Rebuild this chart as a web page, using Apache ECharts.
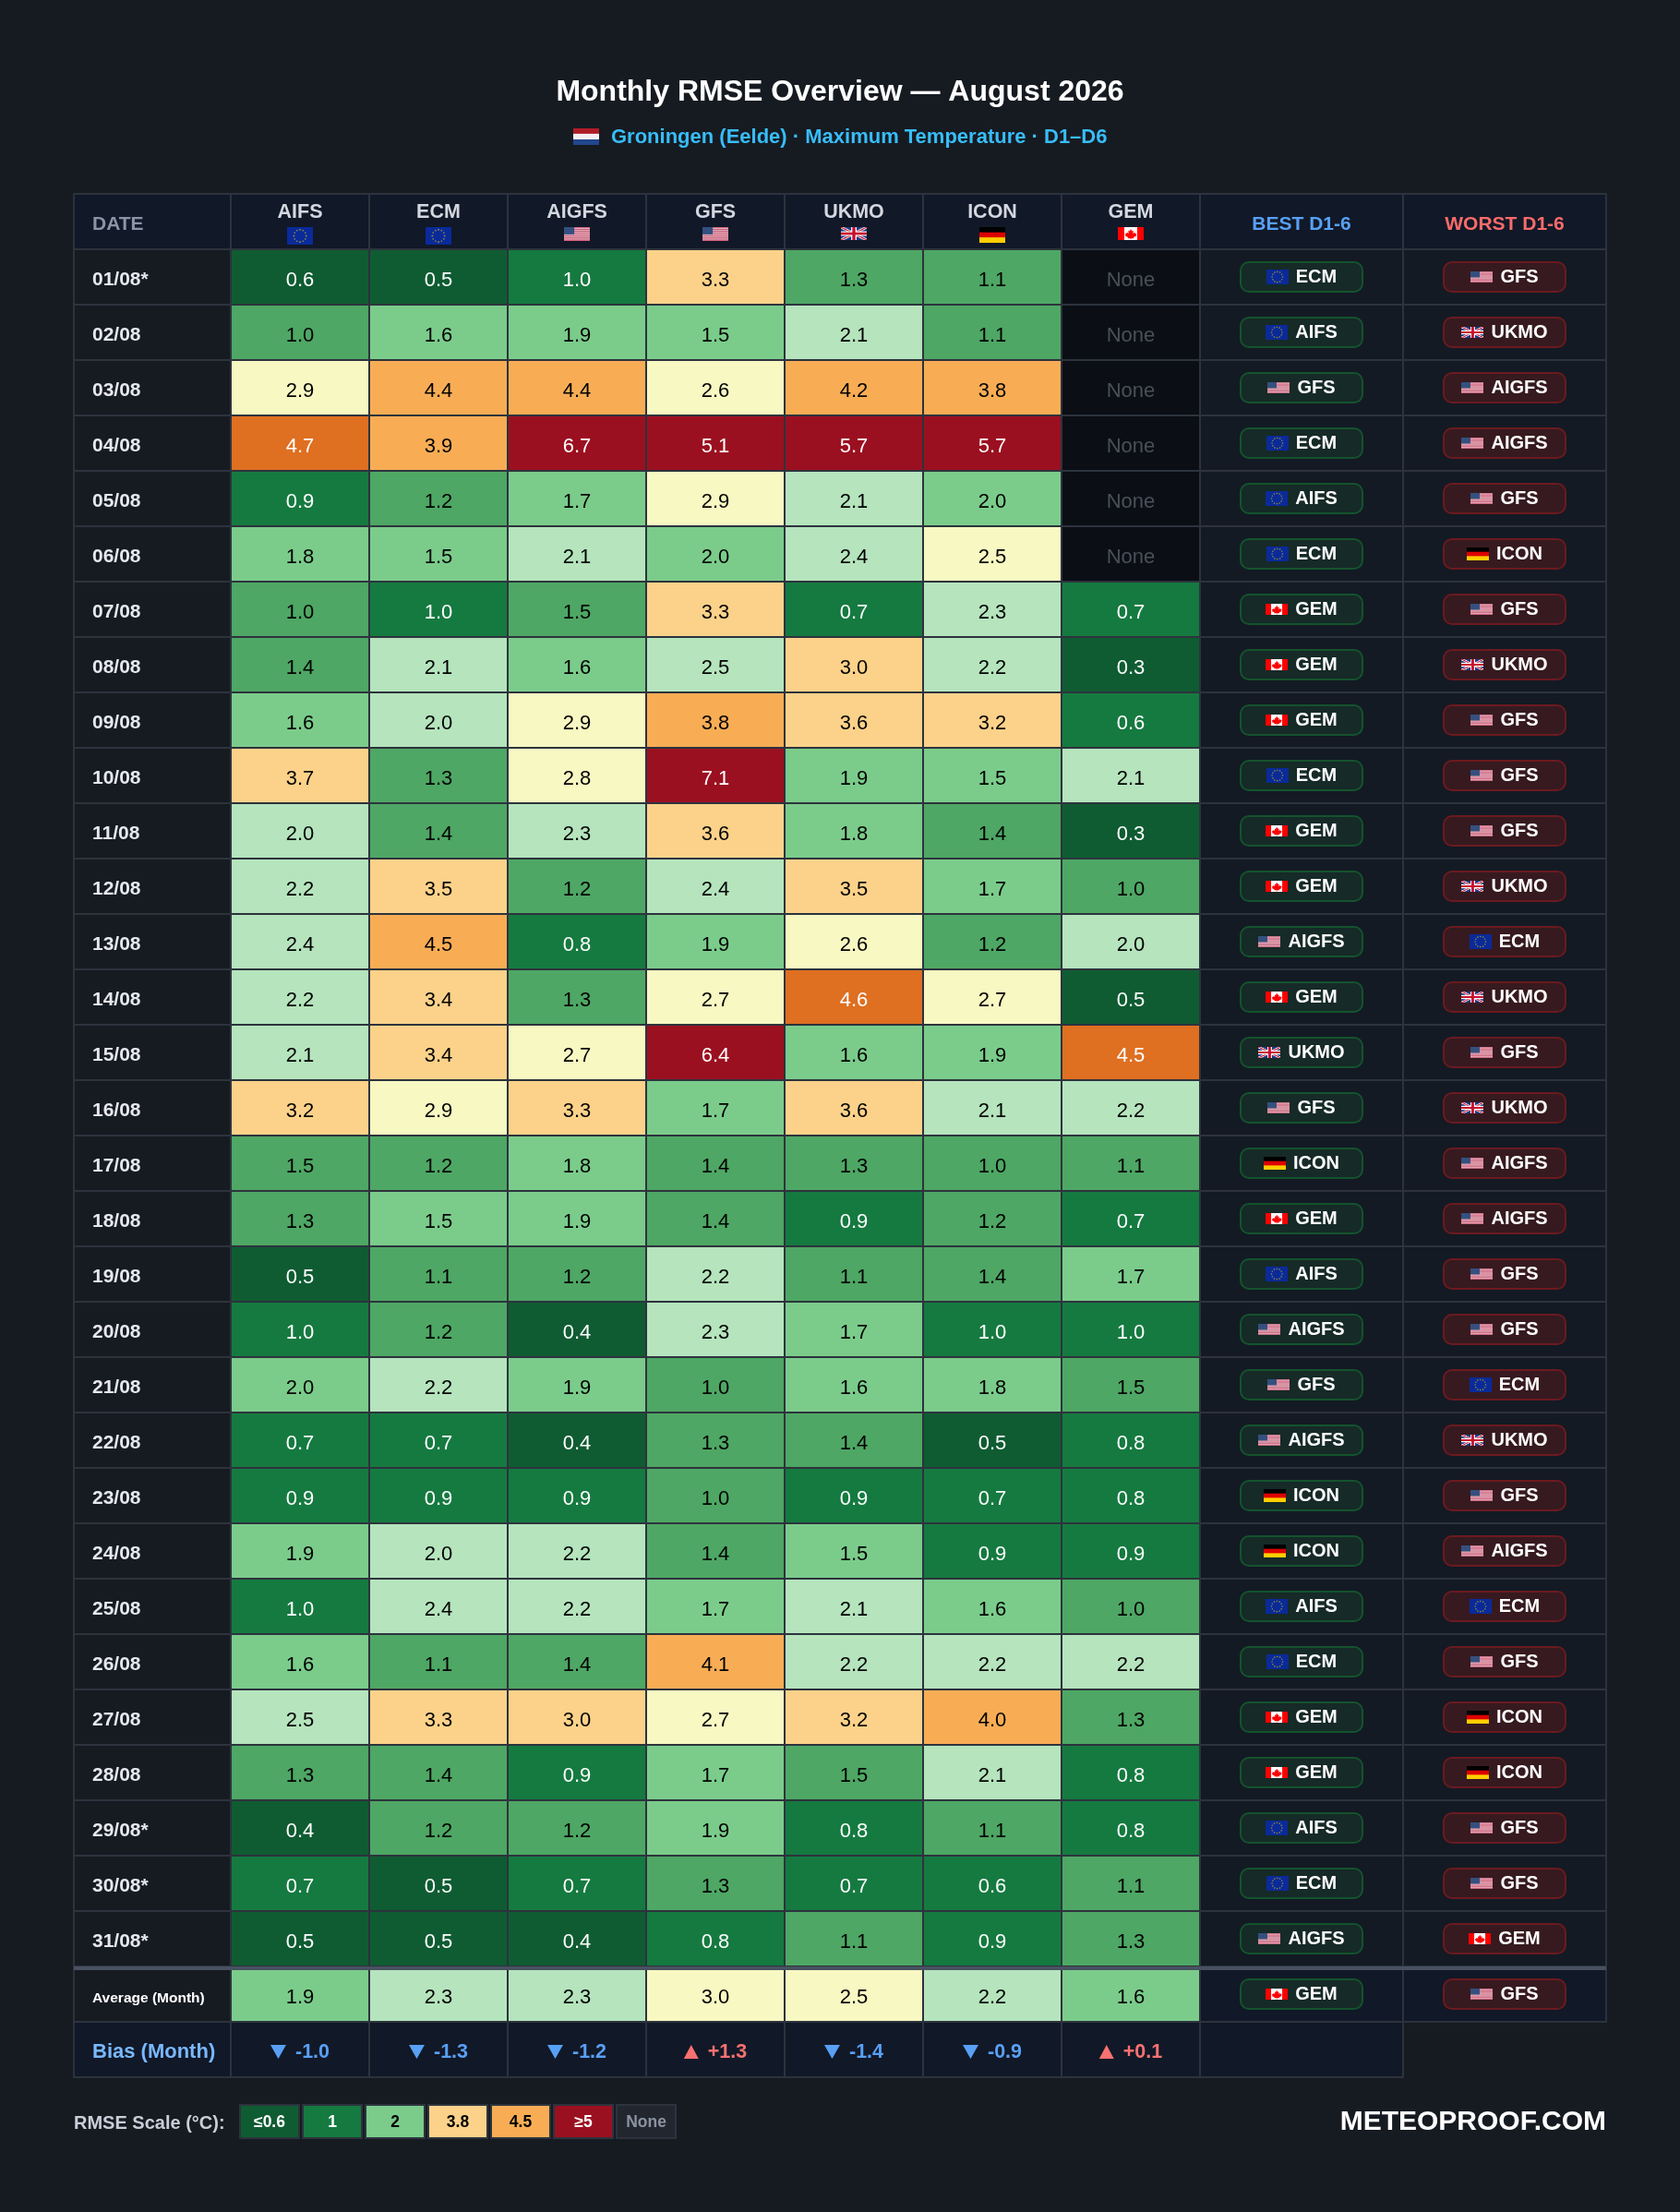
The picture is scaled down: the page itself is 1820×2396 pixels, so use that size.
<!DOCTYPE html>
<html><head><meta charset="utf-8"><title>Monthly RMSE Overview</title>
<style>html,body{margin:0;padding:0;background:#161b22;overflow:hidden}#c{width:1820px;height:2396px}</style>
<script src="https://cdn.jsdelivr.net/npm/echarts@6/dist/echarts.min.js"></script>
</head><body><div id="c"></div>
<script>
const titleText = 'Monthly RMSE Overview — August 2026';
const subtitleText = 'Groningen (Eelde) · Maximum Temperature · D1–D6';
const dates = ['01/08*','02/08','03/08','04/08','05/08','06/08','07/08','08/08','09/08','10/08','11/08','12/08','13/08','14/08','15/08','16/08','17/08','18/08','19/08','20/08','21/08','22/08','23/08','24/08','25/08','26/08','27/08','28/08','29/08*','30/08*','31/08*'];
const models = ['AIFS','ECM','AIGFS','GFS','UKMO','ICON','GEM'];
const modelFlags = {AIFS:'eu',ECM:'eu',AIGFS:'us',GFS:'us',UKMO:'gb',ICON:'de',GEM:'ca'};
const aifs  = [0.6,1.0,2.9,4.7,0.9,1.8,1.0,1.4,1.6,3.7,2.0,2.2,2.4,2.2,2.1,3.2,1.5,1.3,0.5,1.0,2.0,0.7,0.9,1.9,1.0,1.6,2.5,1.3,0.4,0.7,0.5];
const ecm   = [0.5,1.6,4.4,3.9,1.2,1.5,1.0,2.1,2.0,1.3,1.4,3.5,4.5,3.4,3.4,2.9,1.2,1.5,1.1,1.2,2.2,0.7,0.9,2.0,2.4,1.1,3.3,1.4,1.2,0.5,0.5];
const aigfs = [1.0,1.9,4.4,6.7,1.7,2.1,1.5,1.6,2.9,2.8,2.3,1.2,0.8,1.3,2.7,3.3,1.8,1.9,1.2,0.4,1.9,0.4,0.9,2.2,2.2,1.4,3.0,0.9,1.2,0.7,0.4];
const gfs   = [3.3,1.5,2.6,5.1,2.9,2.0,3.3,2.5,3.8,7.1,3.6,2.4,1.9,2.7,6.4,1.7,1.4,1.4,2.2,2.3,1.0,1.3,1.0,1.4,1.7,4.1,2.7,1.7,1.9,1.3,0.8];
const ukmo  = [1.3,2.1,4.2,5.7,2.1,2.4,0.7,3.0,3.6,1.9,1.8,3.5,2.6,4.6,1.6,3.6,1.3,0.9,1.1,1.7,1.6,1.4,0.9,1.5,2.1,2.2,3.2,1.5,0.8,0.7,1.1];
const icon  = [1.1,1.1,3.8,5.7,2.0,2.5,2.3,2.2,3.2,1.5,1.4,1.7,1.2,2.7,1.9,2.1,1.0,1.2,1.4,1.0,1.8,0.5,0.7,0.9,1.6,2.2,4.0,2.1,1.1,0.6,0.9];
const gem   = [null,null,null,null,null,null,0.7,0.3,0.6,2.1,0.3,1.0,2.0,0.5,4.5,2.2,1.1,0.7,1.7,1.0,1.5,0.8,0.8,0.9,1.0,2.2,1.3,0.8,0.8,1.1,1.3];
// colour band of each cell, one string per day (the picture's bands use unrounded values), N = no data
const bandRows = [
 '001622N','233342N','577577N','879999N','123543N','334345N','2126141','2434640','3457661','6259334',
 '4246320','4624632','4713524','4625850','4659338','6563644','2232222','2332121','0224223','1204311',
 '3432332','1102201','1112111','3442311','1443432','3227444','4665672','2213241','0223121','1012112','0001212'
];
const avgRmse  = [1.9,2.3,2.3,3.0,2.5,2.2,1.6];
const avgBands = [3,4,4,5,5,4,3];
const bias     = [-1.0,-1.3,-1.2,1.3,-1.4,-0.9,0.1];
const best  = ['ECM','AIFS','GFS','ECM','AIFS','ECM','GEM','GEM','GEM','ECM','GEM','GEM','AIGFS','GEM','UKMO','GFS','ICON','GEM','AIFS','AIGFS','GFS','AIGFS','ICON','ICON','AIFS','ECM','GEM','GEM','AIFS','ECM','AIGFS'];
const worst = ['GFS','UKMO','AIGFS','AIGFS','GFS','ICON','GFS','UKMO','GFS','GFS','GFS','UKMO','ECM','UKMO','GFS','UKMO','AIGFS','AIGFS','GFS','GFS','ECM','UKMO','GFS','AIGFS','ECM','GFS','ICON','ICON','GFS','GFS','GEM'];
const bestAvg = 'GEM', worstAvg = 'GFS';
const scaleLabels = ['≤0.6','1','2','3.8','4.5','≥5','None'];
const scaleBands  = [0,1,3,6,7,9,11];
const bandColors = ['#0f5c32','#157a40','#4ea764','#7bcc8b','#b5e4bd','#f7f8c2','#fcd28a','#f8ad55','#df6f21','#9b1020','#0b0e15','#21262f'];
const bandText   = ['#fff','#fff','#000','#000','#000','#000','#000','#000','#fff','#fff','#4a4f59','#8b93a1'];
const FONT = '"Liberation Sans", Arial, sans-serif';
const C = {bg:'#161b22', line:'#2d333d', head:'#111827', sum:'#131a24', date:'#161b22'};
function flagCanvas(code){
  const H = {eu:27,us:21,gb:20,de:24,ca:20,nl:27}[code], W = 40;
  const cv = document.createElement('canvas'); cv.width = W; cv.height = H;
  const g = cv.getContext('2d');
  const fill = (c,x,y,w,h)=>{g.fillStyle=c;g.fillRect(x,y,w,h);};
  if(code==='eu'){
    fill('#0a2a9a',0,0,W,H); g.fillStyle='#8f8c3c';
    for(let i=0;i<12;i++){const a=i*Math.PI/6;g.beginPath();g.arc(20+9.5*Math.cos(a),13.5+9.5*Math.sin(a),1.3,0,7);g.fill();}
  } else if(code==='us'){
    for(let i=0;i<13;i++) fill(i%2?'#f2ced6':'#d85f7c',0,i*H/13,W,H/13+.2);
    fill('#34507f',0,0,16,H*7/13);
  } else if(code==='gb'){
    fill('#1d3a80',0,0,W,H);
    g.lineWidth=4;g.strokeStyle='#fff';g.beginPath();g.moveTo(0,0);g.lineTo(W,H);g.moveTo(W,0);g.lineTo(0,H);g.stroke();
    g.lineWidth=1.6;g.strokeStyle='#c8102e';g.beginPath();g.moveTo(0,0);g.lineTo(W,H);g.moveTo(W,0);g.lineTo(0,H);g.stroke();
    fill('#fff',16,0,8,H);fill('#fff',0,6.5,W,7);
    fill('#c8102e',17.5,0,5,H);fill('#c8102e',0,8,W,4);
  } else if(code==='de'){
    fill('#000',0,0,W,8);fill('#dd0000',0,8,W,8);fill('#ffce00',0,16,W,8);
  } else if(code==='ca'){
    fill('#ff0000',0,0,W,H);fill('#fff',10,0,20,H);
    g.fillStyle='#ff0000';g.beginPath();
    [[20,3],[22,6.5],[24,5.5],[23.2,10],[26,8],[26.8,10],[29,10],[28,12.6],[29,13.2],[24,16],[24.4,17.4],[20.6,17],[20.6,19],[19.4,19],[19.4,17],[15.6,17.4],[16,16],[11,13.2],[12,12.6],[11,10],[13.2,10],[14,8],[16.8,10],[16,5.5],[18,6.5]]
      .forEach((p,i)=>i?g.lineTo(p[0],p[1]):g.moveTo(p[0],p[1]));
    g.closePath();g.fill();
  } else if(code==='nl'){
    fill('#ae1c28',0,0,W,9);fill('#f4eef0',0,9,W,9);fill('#21468b',0,18,W,9);
  }
  cv._ratio = H/W;
  return cv;
}
const flags = {}; ['eu','us','gb','de','ca','nl'].forEach(k=>flags[k]=flagCanvas(k));
const measure = document.createElement('canvas').getContext('2d');
function textW(t,font){measure.font=font;return measure.measureText(t).width;}
const rowNames = ['header'].concat(dates,['average','bias']);
const R_AVG = 32, R_BIAS = 33;
function grid(left,width){return {left,width,top:210,height:2040,containLabel:false};}
function hiddenParts(){return {axisLine:{show:false},axisTick:{show:false},axisLabel:{show:false}};}
function xA(i,data,lines){return Object.assign({type:'category',gridIndex:i,data,position:'top',show:true,z:5,
  splitLine:{show:!!lines,lineStyle:{color:C.line,width:2}}},hiddenParts());}
function yA(i,lines){return Object.assign({type:'category',gridIndex:i,data:rowNames,inverse:true,show:true,z:5,
  splitLine:{show:!!lines,lineStyle:{color:C.line,width:2}}},hiddenParts());}
function cellRect(api,fill){
  const c = api.coord([api.value(0),api.value(1)]), s = api.size([1,1]);
  return {type:'rect',shape:{x:c[0]-s[0]/2,y:c[1]-s[1]/2,width:s[0],height:s[1]},style:{fill,stroke:C.line,lineWidth:2}};
}
const txt = (text,x,y,font,fill,align)=>({type:'text',style:{text,x,y,font,fill,textAlign:align||'center',verticalAlign:'middle'}});
const columns = [aifs,ecm,aigfs,gfs,ukmo,icon,gem];
const matrix = [];
columns.forEach((col,c)=>{
  col.forEach((v,r)=>{
    const band = bandRows[r][c]==='N' ? 10 : +bandRows[r][c];
    matrix.push({value:[c,r+1,band,v==null?'None':v.toFixed(1)],label:{color:bandText[band]}});
  });
  matrix.push({value:[c,R_AVG,avgBands[c],avgRmse[c].toFixed(1)],label:{color:bandText[avgBands[c]]}});
});
const dateData = rowNames.map((n,i)=>[0,i]);
const dateLabels = ['DATE'].concat(dates,['Average (Month)','Bias (Month)']);
function renderDate(p,api){
  const r = api.value(1), c = api.coord([0,r]), s = api.size([1,1]);
  const fill = (r===0||r===R_BIAS)?C.head:C.date;
  let font='bold 21px '+FONT, col='#e6e8ec', dy=3.5;
  if(r===0){col='#8b93a5';}
  if(r===R_AVG){font='bold 15.5px '+FONT;col='#fff';dy=5;}
  if(r===R_BIAS){font='bold 22px '+FONT;col='#79b8ff';dy=3;}
  return {type:'group',children:[cellRect(api,fill),txt(dateLabels[r],c[0]-s[0]/2+20,c[1]+dy,font,col,'left')]};
}
const frameData = [];
models.forEach((m,i)=>{frameData.push([i,0]);frameData.push([i,R_BIAS]);});
function renderFrame(p,api){
  const col = api.value(0), r = api.value(1), c = api.coord([col,r]), s = api.size([1,1]);
  const kids=[cellRect(api,C.head)];
  if(r===0){
    const m=models[col], f=flags[modelFlags[m]], top=c[1]-s[1]/2+36;
    kids.push(txt(m,c[0],c[1]-s[1]/2+20,'bold 21.5px '+FONT,'#d3d7df'));
    kids.push({type:'image',style:{image:f,x:c[0]-14,y:top,width:28,height:28*f._ratio}});
  } else {
    const v=bias[col], up=v>0, label=(up?'+':'-')+Math.abs(v).toFixed(1), font='bold 21.5px '+FONT, tw=textW(label,font);
    const color=up?'#f87171':'#58a0f5', tri=up?16:17, x0=c[0]-(tri+10+tw)/2;
    const cy=c[1]+3;
    kids.push({type:'polygon',shape:{points:up?[[x0+tri/2,cy-8],[x0+tri,cy+7],[x0,cy+7]]:[[x0,cy-8],[x0+tri,cy-8],[x0+tri/2,cy+7]]},style:{fill:color}});
    kids.push(txt(label,x0+tri+10,c[1]+3,font,color,'left'));
  }
  return {type:'group',children:kids};
}
const pillData=[];
rowNames.forEach((n,r)=>{
  if(r<R_BIAS){pillData.push([0,r]);pillData.push([1,r]);}
  else pillData.push([0,r]);
});
function renderPill(p,api){
  const col=api.value(0), r=api.value(1), c=api.coord([col,r]);
  const kids=[];
  if(r===0){
    kids.push(cellRect(api,C.head));
    kids.push(txt(col?'WORST D1-6':'BEST D1-6',c[0],c[1]+3.5,'bold 21px '+FONT,col?'#f86b6b':'#58a0f5'));
    return {type:'group',children:kids};
  }
  kids.push(cellRect(api,(r>=R_AVG)?C.head:C.sum));
  if(r===R_BIAS) return {type:'group',children:kids};
  const m = r===R_AVG ? (col?worstAvg:bestAvg) : (col?worst:best)[r-1];
  const pw=132,ph=32;
  kids.push({type:'rect',shape:{x:c[0]-pw/2,y:c[1]-ph/2,width:pw,height:ph,r:9},
    style:{fill:col?'#361a20':'#162a27',stroke:col?'#6b1a1f':'#14532d',lineWidth:2}});
  const font='bold 20px '+FONT, tw=textW(m,font), f=flags[modelFlags[m]], total=24+8+tw, x0=c[0]-total/2, h=24*f._ratio;
  kids.push({type:'image',style:{image:f,x:x0,y:c[1]-h/2,width:24,height:h}});
  kids.push(txt(m,x0+32,c[1],font,'#fff','left'));
  return {type:'group',children:kids};
}
const scaleData = scaleLabels.map((l,i)=>[i,0]);
function renderScale(p,api){
  const i=api.value(0), c=api.coord([i,0]), s=api.size([1,1]), b=scaleBands[i];
  return {type:'group',children:[
    {type:'rect',shape:{x:c[0]-s[0]/2+2,y:c[1]-s[1]/2+1,width:s[0]-4,height:s[1]-2},style:{fill:bandColors[b],stroke:'#2d333d',lineWidth:2}},
    txt(scaleLabels[i],c[0],c[1]+1.5,'bold 17.5px '+FONT,bandText[b])
  ]};
}
const option = {
  backgroundColor:C.bg, animation:false,
  title:{text:titleText,left:'center',top:79.5,textStyle:{color:'#fff',fontFamily:FONT,fontWeight:'bold',fontSize:32}},
  grid:[grid(80,170),grid(250,1050),grid(1300,440),{left:258,width:476,top:2279,height:38}],
  xAxis:[xA(0,['date']),xA(1,models,true),xA(2,['best','worst']),xA(3,scaleLabels)],
  yAxis:[yA(0),yA(1,true),yA(2),Object.assign({type:'category',gridIndex:3,data:['scale'],show:true},hiddenParts(),{splitLine:{show:false}})],
  visualMap:{type:'piecewise',show:false,seriesIndex:0,dimension:2,
    pieces:bandColors.slice(0,11).map((color,value)=>({value,color}))},
  series:[
    {type:'heatmap',xAxisIndex:1,yAxisIndex:1,data:matrix,silent:true,
      encode:{x:0,y:1,value:2},
      label:{show:true,fontFamily:FONT,fontSize:22,offset:[0,4],formatter:p=>p.data.value[3]}},
    {type:'custom',xAxisIndex:0,yAxisIndex:0,data:dateData,renderItem:renderDate,silent:true,z:3},
    {type:'custom',xAxisIndex:1,yAxisIndex:1,data:frameData,renderItem:renderFrame,silent:true,z:3},
    {type:'custom',xAxisIndex:2,yAxisIndex:2,data:pillData,renderItem:renderPill,silent:true,z:3},
    {type:'custom',xAxisIndex:3,yAxisIndex:3,data:scaleData,renderItem:renderScale,silent:true,z:3}
  ],
  graphic:[
    {type:'image',x:621,y:138.5,z:10,style:{image:flags.nl,width:28,height:18.7}},
    {type:'text',x:662,y:149,z:10,style:{text:subtitleText,font:'bold 22px '+FONT,fill:'#38bdf8',textAlign:'left',verticalAlign:'middle'}},
    {type:'rect',x:80,y:2130,z:10,shape:{width:1660,height:4},style:{fill:'#475160'}},
    {type:'text',x:80,y:2300,z:10,style:{text:'RMSE Scale (°C):',font:'bold 20px '+FONT,fill:'#c9ced8',textAlign:'left',verticalAlign:'middle'}},
    {type:'text',x:1740,y:2299,z:10,style:{text:'METEOPROOF.COM',font:'bold 30px '+FONT,fill:'#fff',textAlign:'right',verticalAlign:'middle'}}
  ]
};
echarts.init(document.getElementById('c'),null,{renderer:'canvas',width:1820,height:2396}).setOption(option);
</script></body></html>
